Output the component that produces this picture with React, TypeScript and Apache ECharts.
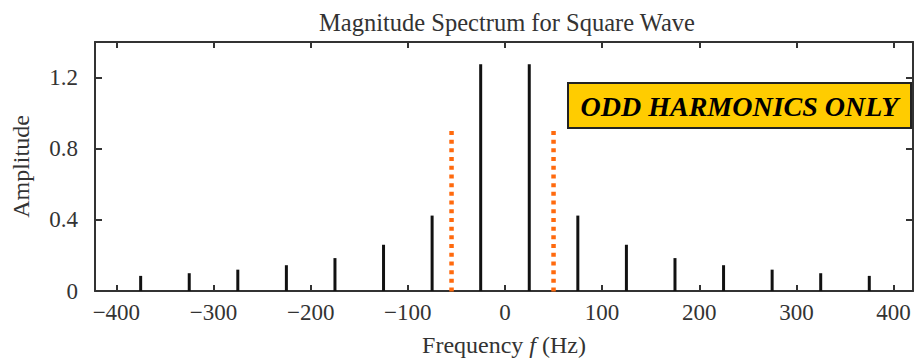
import React, { useEffect, useRef } from "react";
import * as echarts from "echarts";

const xTicks = [-400, -300, -200, -100, 0, 100, 200, 300, 400];
const yTicks = [0, 0.4, 0.8, 1.2];
const harmonicFreqs = [-375, -325, -275, -225, -175, -125, -75, -25, 25, 75, 125, 175, 225, 275, 325, 375];
const harmonicAmps = [0.085, 0.1, 0.12, 0.145, 0.185, 0.26, 0.424, 1.275, 1.275, 0.424, 0.26, 0.185, 0.145, 0.12, 0.1, 0.085];
const markerFreqs = [-55, 50];
const markerTop = 0.9;
const markerBottom = -0.02;
const titleText = "Magnitude Spectrum for Square Wave";
const noteText = "ODD HARMONICS ONLY";

const SERIF = "'Liberation Serif', 'Times New Roman', serif";
const fmtNum = (v: number) => (v < 0 ? "\u2212" + Math.abs(v) : String(v));

export default function App() {
  const ref = useRef<HTMLDivElement>(null);
  useEffect(() => {
    if (!ref.current) return;
    const chart = echarts.init(ref.current, null, { renderer: "svg" });
    const axisLine = { show: true, onZero: false, lineStyle: { color: "#333", width: 2 } };
    const tickStyle = { color: "#333", width: 2 };
    const spikes = harmonicFreqs.map((f, i) => [f, harmonicAmps[i]]);
    const markerSeries = markerFreqs.map((f) => ({
      type: "line",
      xAxisIndex: 0,
      yAxisIndex: 0,
      clip: false,
      symbol: "none",
      silent: true,
      z: 5,
      data: [
        [f, markerTop],
        [f, markerBottom],
      ],
      lineStyle: { color: "#FF6A0E", width: 4.5, type: [4, 4.7], cap: "butt" },
    }));
    chart.setOption({
      animation: false,
      backgroundColor: "#fff",
      title: {
        text: titleText,
        left: 502,
        textAlign: "center",
        top: 5,
        textStyle: { fontFamily: SERIF, fontSize: 24.5, fontWeight: "normal", color: "#333" },
      },
      grid: { left: 95, right: 1, top: 42, bottom: 65 },
      xAxis: [
        {
          type: "value",
          min: -422,
          max: 420,
          position: "bottom",
          axisLine,
          splitLine: { show: false },
          axisTick: { show: true, inside: true, length: 6, lineStyle: tickStyle, customValues: xTicks },
          axisLabel: {
            customValues: xTicks,
            formatter: (v: number) => fmtNum(v),
            fontFamily: SERIF,
            fontSize: 23,
            color: "#333",
            margin: 10,
          },
          name: "Frequency {i|f} (Hz)",
          nameLocation: "middle",
          nameGap: 42,
          nameTextStyle: {
            fontFamily: SERIF,
            fontSize: 24,
            color: "#333",
            rich: { i: { fontFamily: SERIF, fontSize: 24, fontStyle: "italic", color: "#333" } },
          },
        },
        {
          type: "value",
          min: -422,
          max: 420,
          position: "top",
          axisLine,
          splitLine: { show: false },
          axisTick: { show: true, inside: true, length: 6, lineStyle: tickStyle, customValues: xTicks },
          axisLabel: { show: false },
        },
      ],
      yAxis: [
        {
          type: "value",
          min: 0,
          max: 1.4,
          position: "left",
          axisLine,
          splitLine: { show: false },
          axisTick: { show: true, inside: true, length: 7, lineStyle: tickStyle, customValues: yTicks },
          axisLabel: {
            customValues: yTicks,
            formatter: (v: number) => String(v),
            fontFamily: SERIF,
            fontSize: 23,
            color: "#333",
            margin: 17,
          },
          name: "Amplitude",
          nameLocation: "middle",
          nameGap: 62,
          nameTextStyle: { fontFamily: SERIF, fontSize: 24, color: "#333" },
        },
        {
          type: "value",
          min: 0,
          max: 1.4,
          position: "right",
          axisLine,
          splitLine: { show: false },
          axisTick: { show: true, inside: true, length: 7, lineStyle: tickStyle, customValues: yTicks },
          axisLabel: { show: false },
        },
      ],
      series: [
        {
          type: "bar",
          xAxisIndex: 0,
          yAxisIndex: 0,
          barWidth: 3,
          data: spikes,
          itemStyle: { color: "#111" },
          silent: true,
          z: 3,
        },
        ...markerSeries,
      ],
      graphic: [
        {
          type: "group",
          left: 567,
          top: 82,
          z: 10,
          children: [
            {
              type: "rect",
              shape: { x: 0, y: 0, width: 343, height: 45 },
              style: { fill: "#FFCC00", stroke: "#222", lineWidth: 2 },
            },
            {
              type: "text",
              x: 171.5,
              y: 23,
              style: {
                text: noteText,
                fill: "#000",
                font: "italic bold 28px 'Liberation Serif', 'Times New Roman', serif",
                align: "center",
                verticalAlign: "middle",
              },
            },
          ],
        },
      ],
    });
    return () => chart.dispose();
  }, []);
  return <div ref={ref} style={{ position: "absolute", left: 0, top: 0, width: 914, height: 362 }} />;
}
